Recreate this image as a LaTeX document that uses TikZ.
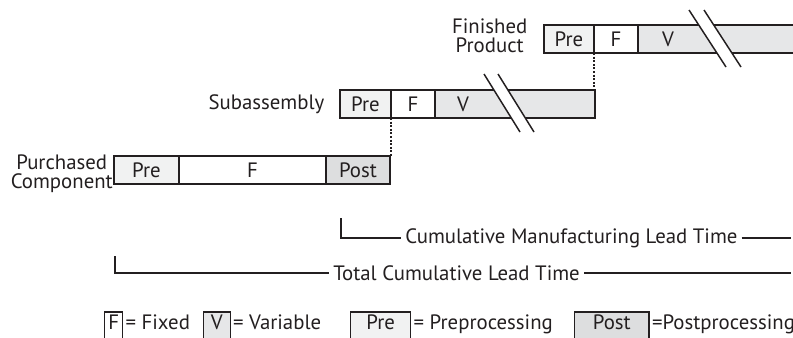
\documentclass[tikz,border=0pt]{standalone}
\usepackage{fontspec}
\setmainfont{PT Sans}
\definecolor{ink}{RGB}{35,31,32}
\definecolor{prefill}{RGB}{241,242,242}
\definecolor{varfill}{RGB}{230,231,232}
\definecolor{postfill}{RGB}{221,222,223}
\begin{document}
\begin{tikzpicture}[x=0.75pt,y=-0.75pt,
  every node/.style={font=\fontsize{15.6}{14.5}\selectfont, text=ink},
  seg/.style={draw=ink, line width=1.3pt, inner sep=0pt, outer sep=0pt,
    minimum height=21pt, anchor=west},
  slash/.style={draw=ink, line width=1.1pt},
  dotline/.style={draw=ink, line width=0.9pt, dash pattern=on 1.5pt off 1.2pt},
  bracket/.style={draw=ink, line width=1pt},
  lgbox/.style={draw=ink, line width=1pt, inner xsep=0pt, inner ysep=0pt,
    text height=12.75pt, text depth=12pt, anchor=base west},
  lgtext/.style={anchor=base west, inner xsep=1.5pt, inner ysep=0pt}]
\useasboundingbox (0,0) rectangle (793,337);
\clip (0,0) rectangle (793,337);

% Finished product bar
\node[seg, fill=prefill, minimum width=37.5pt] (fpPre) at (544,39) {Pre};
\node[seg, fill=white, minimum width=33pt] (fpF) at (fpPre.east) {F};
\node[seg, fill=varfill, minimum width=150pt] (fpV) at (fpF.east) {};
\node (fpVl) at (668,39) {V};
\fill[white] (689,10) -- (704,10) -- (741,67) -- (726,67) -- cycle;
\draw[slash] (689,10) -- (726,67);
\draw[slash] (704,10) -- (741,67);
\node[anchor=east, align=center] (fpLbl) at (532,36) {Finished\\Product};

% Subassembly bar
\node[seg, fill=prefill, minimum width=38.25pt] (saPre) at (340,104) {Pre};
\node[seg, fill=white, minimum width=33pt] (saF) at (saPre.east) {F};
\node[seg, fill=varfill, minimum width=120pt] (saV) at (saF.east) {};
\node (saVl) at (463,104) {V};
\fill[white] (484,74) -- (498,74) -- (534,132) -- (520,132) -- cycle;
\draw[slash] (484,74) -- (520,132);
\draw[slash] (498,74) -- (534,132);
\node[anchor=base east] (saLbl) at (329,109) {Subassembly};

% Purchased component bar
\node[seg, fill=prefill, minimum width=48.75pt] (pcPre) at (114,170) {Pre};
\node[seg, fill=white, minimum width=110.25pt] (pcF) at (pcPre.east) {F};
\node[seg, fill=postfill, minimum width=48pt] (pcPost) at (pcF.east) {Post};
\node[anchor=east, align=center, inner sep=0pt] (pcLbl) at (113,174) {Purchased\\Component};

% offsets between the levels
\draw[dotline] (fpPre.south east) -- (fpPre.south east |- saV.north east);
\draw[dotline] (saPre.south east) -- (saPre.south east |- pcPost.north east);

% lead time spans
\coordinate (cmTop) at (341,218);
\coordinate (cmEnd) at (791,238);
\node[anchor=west, inner xsep=3pt] (cmText) at (401,238) {Cumulative Manufacturing Lead Time};
\draw[bracket] (cmTop) |- (cmText.west);
\draw[bracket] (cmText.east) -- (cmEnd);

\coordinate (tcTop) at (115,256);
\coordinate (tcEnd) at (791,273);
\node[anchor=west, inner xsep=3pt] (tcText) at (329,273) {Total Cumulative Lead Time};
\draw[bracket] (tcTop) |- (tcText.west);
\draw[bracket] (tcText.east) -- (tcEnd);

% key
\node[lgbox, fill=white, minimum width=13.5pt] (lgF) at (104,329) {F};
\node[lgtext] (lgFt) at (lgF.base east) {= Fixed};
\node[lgbox, fill=varfill, minimum width=20pt] (lgV) at ([xshift=8pt]lgFt.base east) {V};
\node[lgtext] (lgVt) at (lgV.base east) {= Variable};
\node[lgbox, fill=prefill, minimum width=45pt] (lgPre) at ([xshift=20pt]lgVt.base east) {Pre};
\node[lgtext] (lgPret) at (lgPre.base east) {= Preprocessing};
\node[lgbox, fill=postfill, minimum width=56pt] (lgPost) at ([xshift=14pt]lgPret.base east) {Post};
\node[lgtext] (lgPostt) at (lgPost.base east) {=Postprocessing};
\end{tikzpicture}
\end{document}
